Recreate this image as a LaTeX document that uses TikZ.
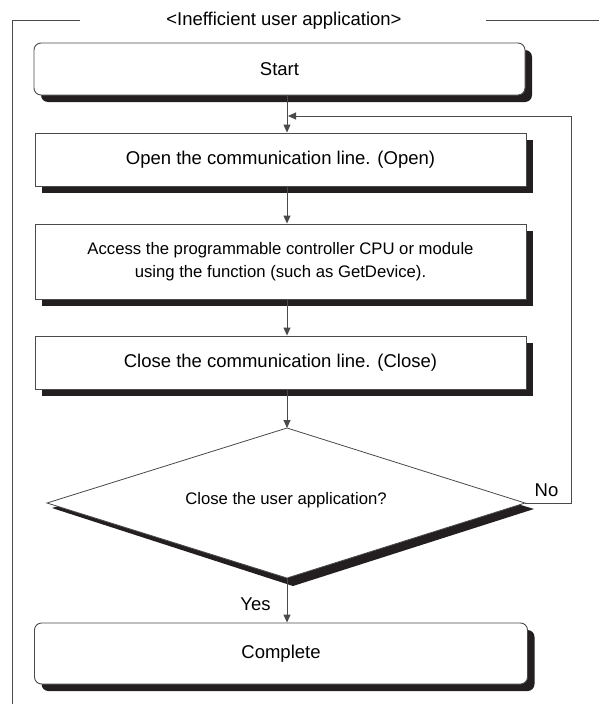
\documentclass[tikz,border=0pt]{standalone}
\usepackage{fontspec}
\setmainfont{Liberation Sans}
\usetikzlibrary{arrows.meta,shadows}
\definecolor{ln}{HTML}{4A4A4A}
\definecolor{sh}{HTML}{231F20}
\begin{document}
\begin{tikzpicture}[x=1pt,y=-1pt,
  every node/.style={font=\fontsize{18.5}{22}\selectfont, text=black},
  boxshadow/.style={general shadow={fill=sh, shadow xshift=7pt, shadow yshift=-7pt}},
  procbox/.style={draw=ln, line width=0.9pt, fill=white, rectangle, minimum width=491pt, inner sep=0pt, boxshadow, align=center},
  termbox/.style={procbox, rounded corners=7pt},
  decline/.style={draw=ln, line width=0.8pt, fill=white},
  flow/.style={draw=ln, line width=0.9pt, -{Triangle[length=8pt,width=7pt]}},
  small/.style={font=\fontsize{16.7}{23}\selectfont},
  lbl/.style={inner sep=0pt}
]
\useasboundingbox (0,0) rectangle (599,704);
% frame
\coordinate (fa) at (80,20);
\coordinate (fb) at (12,20);
\coordinate (fc) at (12,704);
\coordinate (fd) at (486,20);
\coordinate (fe) at (599,20);
\draw[ln, line width=0.9pt] (fa) -- (fb) -- (fc);
\draw[ln, line width=0.9pt] (fd) -- (fe);
\node[lbl] (title) at (284,21) {<Inefficient user application>};
% boxes
\node[termbox, minimum height=52pt] (start) at (279.5,69) {Start};
\node[procbox, minimum height=53pt] (open) at (280.5,159.5) {Open the communication line. (Open)};
\node[procbox, minimum height=75pt, small] (access) at (280.5,261.5) {Access the programmable controller CPU or module\\using the function (such as GetDevice).};
\node[procbox, minimum height=53pt] (close) at (280.5,362.5) {Close the communication line. (Close)};
% decision diamond
\coordinate (dtop) at (287,428);
\coordinate (dleft) at (47,503);
\coordinate (dright) at (525,503);
\coordinate (dbot) at (287,578);
\fill[sh] ([shift={(6,8)}]dtop) -- ([shift={(9,6)}]dright) -- ([shift={(6,8)}]dbot) -- ([shift={(5,5)}]dleft) -- cycle;
\draw[decline] (dtop) -- (dright) -- (dbot) -- (dleft) -- cycle;
\node[lbl, small] (dec) at (286,500) {Close the user application?};
\node[termbox, minimum width=493pt, minimum height=61pt] (done) at (281,653.5) {Complete};
% connectors
\coordinate (ax) at (287,0);
\coordinate (loopin) at (288,116);
\coordinate (looptop) at (571,116);
\draw[flow] (start.south -| ax) -- (open.north -| ax);
\draw[flow] (open.south -| ax) -- (access.north -| ax);
\draw[flow] (access.south -| ax) -- (close.north -| ax);
\draw[flow] (close.south -| ax) -- (dtop);
\draw[flow] (dbot) -- (done.north -| dbot);
\draw[flow] (dright) -| (looptop) -- (loopin);
\node[lbl] (yes) at (255.5,604) {Yes};
\node[lbl] (no) at (546.5,490) {No};
\end{tikzpicture}
\end{document}
